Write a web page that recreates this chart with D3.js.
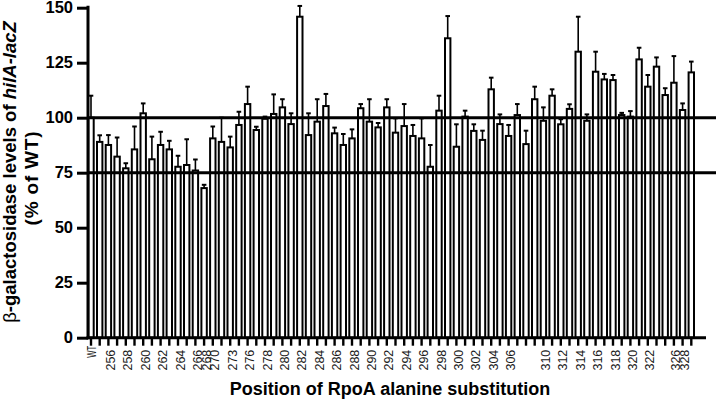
<!DOCTYPE html>
<html>
<head>
<meta charset="utf-8">
<title>RpoA alanine substitution</title>
<style>
  body { margin: 0; background: #fff; }
  svg { display: block; font-family: "Liberation Sans", Arial, sans-serif; }
</style>
</head>
<body>
<script src="https://cdn.jsdelivr.net/npm/d3@7/dist/d3.min.js"></script>
<script>

  var positions = ["WT","255","256","257","258","259","260","261","262","263",
                   "264","265","266","268","270","271","273","274","276","277",
                   "278","279","280","281","282","283","284","285","286","287",
                   "288","289","290","291","292","293","294","295","296","297",
                   "298","299","300","301","302","303","304","305","306","307",
                   "308","309","310","311","312","313","314","315","316","317",
                   "318","319","320","321","322","323","324","326","328","329"];

  var values = [100, 89, 87.6, 82.3, 77, 85.6, 102, 81.1, 87.6, 85.6,
                77.7, 78.5, 76, 68, 90.6, 89, 86.5, 96.7, 106.2, 94.4,
                99.5, 101.7, 104.7, 97.1, 145.9, 92.1, 98.2, 105.3, 92.9, 87.6,
                90.6, 104.3, 98.2, 95.6, 104.7, 93.2, 96.2, 91.7, 90.6, 77.7,
                103.2, 136.1, 86.8, 100.5, 94, 89.9, 112.9, 97.1, 91.7, 101.2,
                88, 108.4, 98.6, 110, 97, 104, 130, 98.6, 120.9, 117.4,
                117.1, 101.2, 100.5, 126.5, 114.1, 123.2, 110.3, 115.9, 103.5, 120.6];

  var errors = [10, 3, 4.5, 8.7, 2.3, 10.4, 4.5, 10.3, 6, 3.9,
                5, 11.7, 5, 1.5, 5.4, 11, 4.9, 6, 7.9, 1.5,
                1, 8.9, 3.7, 4.9, 4.9, 9.9, 10.2, 5.5, 2.6, 5,
                4.1, 1.9, 10.2, 2, 3.7, 6.5, 10, 5, 9.1, 9.9,
                6.8, 10.1, 10.2, 2.7, 3, 4.2, 5.3, 4.4, 5, 5,
                6.1, 5.7, 6.1, 2.9, 2.3, 2.1, 15.9, 2.9, 9.1, 2.5,
                2.3, 1, 2.5, 5.3, 5.3, 4.2, 3.1, 12.1, 3, 4.9];

  // only these positions get a tick label
  var tickLabels = ["WT","256","258","260","262","264","266","268","270","273",
                    "276","278","280","282","284","286","288","290","292","294",
                    "296","298","300","302","304","306","310","312","314","316",
                    "318","320","322","326","328"];

  var yTicks = [0, 25, 50, 75, 100, 125, 150];
  var refLines = [100, 75];

  var w = 721;
  var h = 402;

  var svg = d3.select("body").append("svg").attr("width", w).attr("height", h);

  var x = d3.scaleBand().domain(positions).range([86.65, 695.65]);
  var y = d3.scaleLinear().domain([0, 150]).range([337.7, 7.7]);

  var bw = 5.4;
  var data = positions.map(function(p, i){ return {p: p, v: values[i], e: errors[i]}; });

  // bars
  svg.append("g").selectAll("rect")
    .data(data)
    .enter()
    .append("rect")
    .attr("x", function(d){ return x(d.p) + x.bandwidth() / 2 - bw / 2; })
    .attr("y", function(d){ return y(d.v); })
    .attr("width", bw)
    .attr("height", function(d){ return y(0) - y(d.v); })
    .attr("fill", "#fff")
    .attr("stroke", "#000")
    .attr("stroke-width", 2);

  // error bars (upper only)
  var eb = svg.append("g").attr("stroke", "#000");
  eb.selectAll("line.stem")
    .data(data)
    .enter()
    .append("line")
    .attr("class", "stem")
    .attr("x1", function(d){ return x(d.p) + x.bandwidth() / 2; })
    .attr("x2", function(d){ return x(d.p) + x.bandwidth() / 2; })
    .attr("y1", function(d){ return y(d.v); })
    .attr("y2", function(d){ return y(d.v + d.e); })
    .attr("stroke-width", 1.6);
  eb.selectAll("line.cap")
    .data(data)
    .enter()
    .append("line")
    .attr("class", "cap")
    .attr("x1", function(d){ return x(d.p) + x.bandwidth() / 2 - 2.3; })
    .attr("x2", function(d){ return x(d.p) + x.bandwidth() / 2 + 2.3; })
    .attr("y1", function(d){ return y(d.v + d.e); })
    .attr("y2", function(d){ return y(d.v + d.e); })
    .attr("stroke-width", 2);

  // reference lines at 100 and 75
  svg.append("g").selectAll("line")
    .data(refLines)
    .enter()
    .append("line")
    .attr("x1", 88)
    .attr("x2", 716)
    .attr("y1", function(d){ return y(d); })
    .attr("y2", function(d){ return y(d); })
    .attr("stroke", "#000")
    .attr("stroke-width", 3);

  // y axis
  var yAxis = d3.axisLeft(y).tickValues(yTicks).tickSize(11).tickSizeOuter(0).tickPadding(4);
  var gy = svg.append("g").attr("transform", "translate(88,0)").call(yAxis);
  gy.select(".domain").attr("stroke-width", 3).attr("d", "M0," + (y(150) - 2) + "V" + (y(0) + 1.5));
  gy.selectAll(".tick line").attr("stroke-width", 3);
  gy.selectAll(".tick text")
    .attr("font-family", "Liberation Sans, Arial, sans-serif")
    .attr("font-size", 16.5)
    .attr("font-weight", "bold")
    .attr("fill", "#000");

  // x axis
  var xAxis = d3.axisBottom(x).tickSize(8).tickSizeOuter(0)
    .tickFormat(function(d){ return tickLabels.indexOf(d) >= 0 ? d : ""; });
  var gx = svg.append("g").attr("transform", "translate(0," + y(0) + ")").call(xAxis);
  gx.select(".domain").attr("stroke-width", 3).attr("d", "M86.5,0H706");
  gx.selectAll(".tick line").attr("stroke-width", 2.4);
  gx.selectAll(".tick text")
    .attr("font-family", "Liberation Sans, Arial, sans-serif")
    .attr("font-size", 12.5)
    .attr("fill", "#1a1a1a")
    .attr("text-anchor", "end")
    .attr("transform", "translate(2,12) rotate(-90)")
    .attr("x", 0)
    .attr("y", 0)
    .attr("dy", "0.36em");
  gx.selectAll(".tick text")
    .filter(function(d){ return d === "WT"; })
    .attr("font-size", 13)
    .attr("transform", "translate(0,8) rotate(-90)")
    .attr("textLength", 12)
    .attr("lengthAdjust", "spacingAndGlyphs");

  // axis titles
  svg.append("text")
    .attr("x", 390)
    .attr("y", 394.5)
    .attr("text-anchor", "middle")
    .attr("font-size", 18)
    .attr("font-weight", "bold")
    .text("Position of RpoA alanine substitution");

  var yt = svg.append("g").attr("transform", "translate(0,175) rotate(-90)");
  var t1 = yt.append("text")
    .attr("x", 3)
    .attr("y", 15.5)
    .attr("text-anchor", "middle")
    .attr("font-size", 18.5)
    .attr("font-weight", "bold");
  t1.append("tspan").attr("font-weight", "normal").text("β");
  t1.append("tspan").text("-galactosidase levels of ");
  t1.append("tspan").attr("font-style", "italic").text("hilA-lacZ");
  yt.append("text")
    .attr("x", -3)
    .attr("y", 37.5)
    .attr("text-anchor", "middle")
    .attr("font-size", 19)
    .attr("font-weight", "bold")
    .attr("letter-spacing", 0.8)
    .text("(% of WT)");

</script>
</body>
</html>
